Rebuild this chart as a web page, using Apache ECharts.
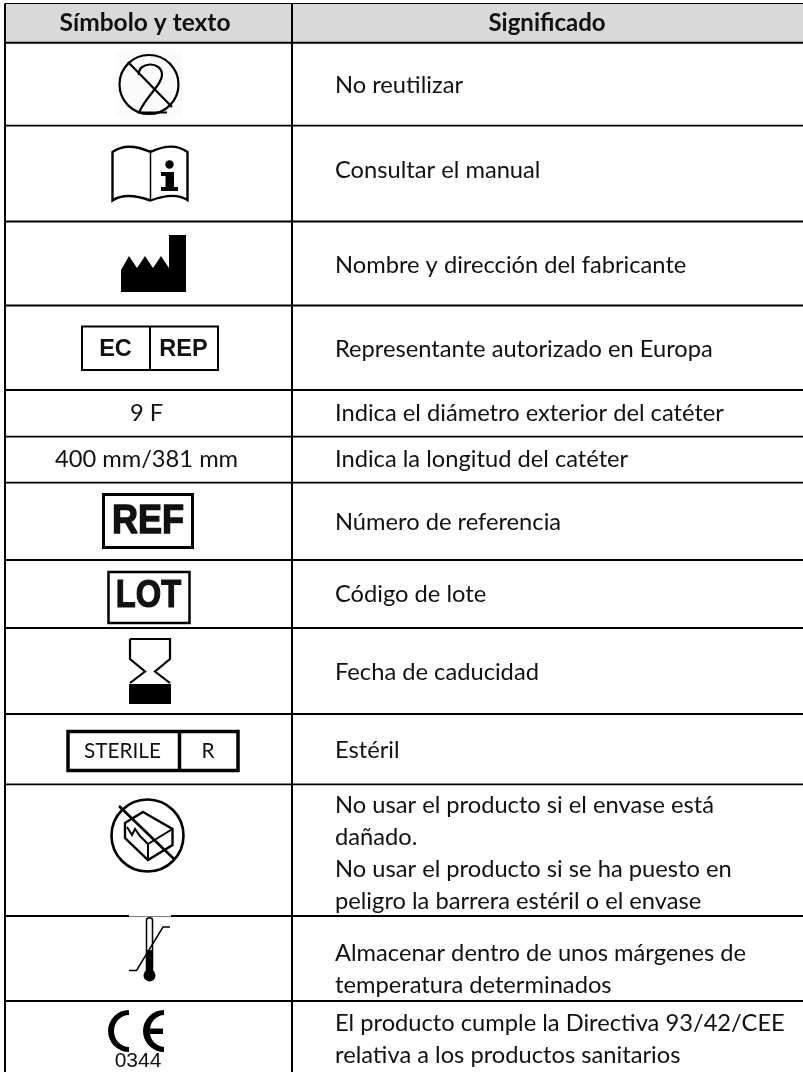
<!DOCTYPE html>
<html>
<head>
<meta charset="utf-8">
<style>html,body{margin:0;padding:0;background:#fff}#c{width:803px;height:1072px}</style>
<script src="https://cdn.jsdelivr.net/npm/echarts@6/dist/echarts.min.js"></script>
</head>
<body>
<div id="c"></div>
<script>
const headers = ['Símbolo y texto', 'Significado'];
const symbolKinds = ['noReuse','manual','factory','ecRep','text','text','ref','lot','hourglass','sterile','damaged','thermo','ce'];
const symbolTexts = ['','','','','9 F','400 mm/381 mm','','','','','','',''];
const meanings = [
  'No reutilizar',
  'Consultar el manual',
  'Nombre y dirección del fabricante',
  'Representante autorizado en Europa',
  'Indica el diámetro exterior del catéter',
  'Indica la longitud del catéter',
  'Número de referencia',
  'Código de lote',
  'Fecha de caducidad',
  'Estéril',
  'No usar el producto si el envase está\ndañado.\nNo usar el producto si se ha puesto en\npeligro la barrera estéril o el envase',
  'Almacenar dentro de unos márgenes de\ntemperatura determinados',
  'El producto cumple la Directiva 93/42/CEE\nrelativa a los productos sanitarios'
];
// layout of the table, in axis units
const rowRules = [42.8,125.7,221.5,305.5,390,436.7,482.7,560,628,714,784.3,916,1001];
const meaningCentres = [85,170,265,349,413,459,522,594,672,750,853.5,969,1039];
const tableTop = 3.5, tableLeft = 5, columnRule = 292, tableRight = 803, tableBottom = 1072;

const FONT = 'Lato, "Open Sans", sans-serif';
const ARIAL = '"Liberation Sans", Arial, sans-serif';
const TEXT_PX = 23.7;

function txt(s, x, y, font, align, extra, strokeW) {
  const st = {
    text:s, x:0, y:0, font:font, fill:'#111', textAlign:align||'center', align:align||'center',
    textVerticalAlign:'middle', verticalAlign:'middle', lineHeight:32
  };
  if (strokeW) { st.stroke = '#111'; st.lineWidth = strokeW; }
  return Object.assign({type:'text', x:x, y:y, silent:true, style:st}, extra||{});
}
function stroke(d, w) { return {type:'path', shape:{pathData:d}, style:{fill:'none', stroke:'#000', lineWidth:w||2, lineJoin:'miter'}}; }
function fill(d) { return {type:'path', shape:{pathData:d}, style:{fill:'#000', stroke:null}}; }
function box(x,y,w,h,lw){ return {type:'rect', shape:{x:x,y:y,width:w,height:h}, style:{fill:'#fff', stroke:'#000', lineWidth:lw}}; }
function dot(cx,cy,r){ return {type:'circle', shape:{cx:cx,cy:cy,r:r}, style:{fill:'#000'}}; }
function ring(cx,cy,r,lw){ return {type:'circle', shape:{cx:cx,cy:cy,r:r}, style:{fill:'none',stroke:'#000',lineWidth:lw}}; }

const glyphs = {
  noReuse: () => [
    {type:'rect', shape:{x:116,y:51,width:66,height:66}, style:{fill:'#fbfbfb'}},
    ring(149,84.5,29.5,2.2),
    stroke('M128,62 L172,107',2.2),
    stroke('M139,75 C137,62 162,60 162,75 C162,85 146,96 139,112.5 L167,112.5',2.2)
  ],
  manual: () => [
    stroke('M112.5,152 C122,145 135,145 150.5,152 C165,145 178,145 187.5,152 L187.5,200 C178,194 165,195 150.5,200.5 C135,195 122,194 112.5,200.5 Z',2.4),
    stroke('M150.5,150 L150.5,200',1.5),
    dot(169.5,164.5,4.2),
    fill('M161,172 L174,172 L174,187 L178,187 L178,191 L161,191 L161,187 L165.5,187 L165.5,176 L161,176 Z')
  ],
  factory: () => [
    fill('M121,292 L121,270 L129,256 L137,268 L145,256 L153,268 L161,256 L169,268 L169,235 L186,235 L186,292 Z')
  ],
  ecRep: () => [
    box(82,326.5,136,43.5,2),
    stroke('M150,326 L150,370',2),
    txt('EC',115.5,350,'bold 23.5px '+ARIAL),
    txt('REP',183.5,350,'bold 23.5px '+ARIAL)
  ],
  ref: () => [
    box(103.5,494.5,89,53,3),
    txt('REF',148,522,'900 41px '+ARIAL,'center',{scaleX:0.88},1.4)
  ],
  lot: () => [
    box(108.5,572,81,51,2.5),
    txt('LOT',148.5,597,'900 38px '+ARIAL,'center',{scaleX:0.86},1.2)
  ],
  hourglass: () => [
    stroke('M130,639 L170,639 L170,659 L155,671.5 L170,683 M130,639 L130,659 L145,671.5 L130,683',2.2),
    fill('M129,684 L171,684 L171,704 L129,704 Z')
  ],
  sterile: () => [
    box(68,731.5,170,39,3.5),
    stroke('M179.5,731 L179.5,771',3.5),
    txt('STERILE',122.5,751,'20.8px '+FONT),
    txt('R',208,751,'20.8px '+FONT)
  ],
  damaged: () => [
    ring(147.5,835.5,36,2.6),
    stroke('M143,812 L172.5,829 L172.5,845 L148,860 L125,838 L125,823 Z',2.4),
    stroke('M172.5,829 L148,844 L148,860',2),
    stroke('M127,827 L132,835 L135,829 L140,836 L148,844',2),
    stroke('M119,806 L174,859',2.6)
  ],
  thermo: () => [
    {type:'rect', shape:{x:129,y:915,width:42,height:1.5}, style:{fill:'#fff'}},
    stroke('M146.5,972 L146.5,920 C146.5,917 152.5,917 152.5,920 L152.5,972',1.5),
    fill('M146.5,950 L152.5,950 L152.5,972 L146.5,972 Z'),
    dot(149.5,975.5,6),
    stroke('M129,970.5 L136.5,970.5 L163,927 L170,927',1.5)
  ],
  ce: () => [
    fill('M129,1010 A21,21 0 0 0 129,1052 L129,1047 A15,16 0 0 1 129,1015 Z'),
    fill('M164,1010 A21,21 0 0 0 164,1052 L164,1047 A15,16 0 0 1 150,1034 L163,1034 L163,1028.5 L150,1028.5 A15,16 0 0 1 164,1015 Z'),
    txt('0344',138,1061.5,'21px '+ARIAL)
  ]
};

function renderCells(params, api) {
  const i = params.dataIndex;
  const o = api.coord([0,0]);
  const kids = [];
  const kind = symbolKinds[i];
  if (kind === 'text') {
    kids.push(txt(symbolTexts[i], 146.5, meaningCentres[i], TEXT_PX+'px '+FONT));
  } else {
    kids.push.apply(kids, glyphs[kind]());
  }
  kids.push(txt(meanings[i], 335, meaningCentres[i], TEXT_PX+'px '+FONT, 'left'));
  return {type:'group', x:o[0], y:o[1], children:kids};
}

function renderFrame(params, api) {
  const a = api.coord([tableLeft, tableTop]);
  const b = api.coord([tableRight, rowRules[0]]);
  const kids = [
    {type:'rect', shape:{x:a[0],y:a[1],width:b[0]-a[0],height:b[1]-a[1]}, style:{fill:'#d9d9d9'}},
    txt(headers[0], api.coord([145,0])[0], api.coord([0,23.5])[1], 'bold 24.5px '+FONT),
    txt(headers[1], api.coord([547,0])[0], api.coord([0,23.5])[1], 'bold 24px '+FONT)
  ];
  const hline = (y,w) => {
    const p = api.coord([tableLeft,y]), q = api.coord([tableRight,y]);
    kids.push({type:'line', shape:{x1:p[0],y1:p[1],x2:q[0],y2:q[1]}, style:{stroke:'#000',lineWidth:w}});
  };
  const vline = (x) => {
    const p = api.coord([x,tableTop]), q = api.coord([x,tableBottom]);
    kids.push({type:'line', shape:{x1:p[0],y1:p[1],x2:q[0],y2:q[1]}, style:{stroke:'#000',lineWidth:2}});
  };
  hline(tableTop,1.2);
  rowRules.forEach((y,k)=>hline(y,k===0?2:1.8));
  vline(tableLeft); vline(columnRule);
  return {type:'group', children:kids};
}

const chart = echarts.init(document.getElementById('c'), null, {renderer:'canvas'});
chart.setOption({
  animation:false,
  backgroundColor:'#fff',
  grid:{left:0,right:0,top:0,bottom:0},
  xAxis:{type:'value',min:0,max:803,show:false},
  yAxis:{type:'value',min:0,max:1072,inverse:true,show:false},
  series:[
    {type:'custom',silent:true,clip:false,z:1,renderItem:renderFrame,data:[[0,0]],encode:{x:0,y:1}},
    {type:'custom',silent:true,clip:false,z:2,renderItem:renderCells,
     data:meanings.map((m,i)=>[i,meaningCentres[i]]),encode:{x:0,y:1}}
  ]
});
</script>
</body>
</html>
